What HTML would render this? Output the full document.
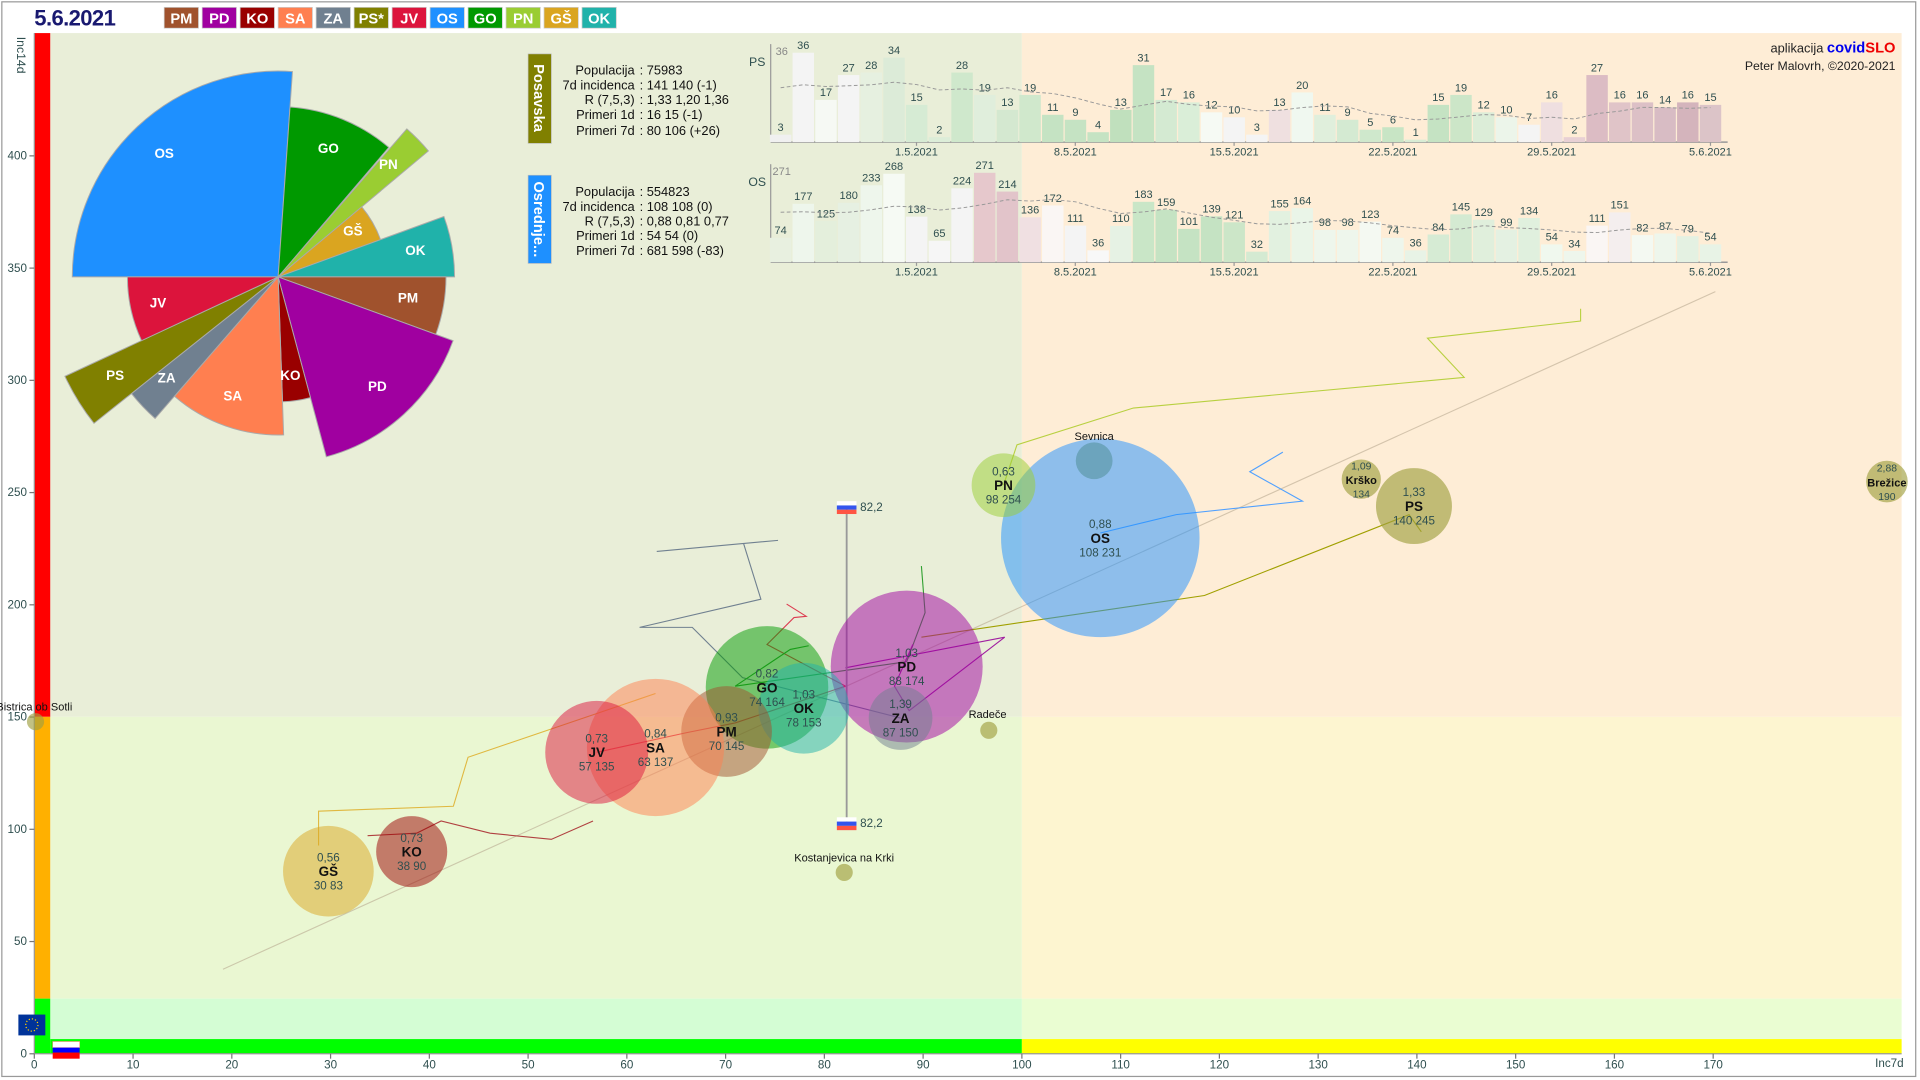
<!DOCTYPE html>
<html><head><meta charset="utf-8"><style>
html,body{margin:0;padding:0;background:#fff;overflow:hidden}
svg{display:block;font-family:"Liberation Sans",sans-serif}
</style></head><body>
<svg id="s" width="1920" height="1080" viewBox="0 0 1567 881.4" preserveAspectRatio="none" xmlns="http://www.w3.org/2000/svg">
<rect x="0" y="0" width="1567" height="881.4" fill="#fff"/>
<rect x="1.5" y="1.5" width="1562" height="877" fill="none" stroke="#999" stroke-width="1"/>
<rect x="41" y="27" width="793" height="558" fill="#e9eed8"/>
<rect x="834" y="27" width="718" height="558" fill="#feedd6"/>
<rect x="41" y="585" width="793" height="230" fill="#eaf7d2"/>
<rect x="834" y="585" width="718" height="230" fill="#fdf5d0"/>
<rect x="41" y="815" width="793" height="33" fill="#d4fdd4"/>
<rect x="834" y="815" width="718" height="33" fill="#eafdd2"/>
<rect x="41" y="848" width="793" height="12" fill="#00ff00"/>
<rect x="834" y="848" width="718" height="12" fill="#ffff00"/>
<rect x="28" y="27" width="13" height="558" fill="#ff0000"/>
<rect x="28" y="585" width="13" height="230" fill="#ffb000"/>
<rect x="28" y="815" width="13" height="45" fill="#00ff00"/>
<line x1="28" y1="27" x2="28" y2="860" stroke="#999"/>
<line x1="28" y1="860" x2="1552" y2="860" stroke="#999"/>
<g id="axes" font-size="9.5" fill="#2f4f4f"></g>
<text x="0" y="0" font-size="10" fill="#2f4f4f" transform="translate(14,30) rotate(90)">Inc14d</text>
<text x="1542" y="871" font-size="9.5" fill="#2f4f4f" text-anchor="middle">Inc7d</text>
<rect x="15" y="828" width="22" height="17" fill="#003399"/>
<circle cx="26" cy="836.5" r="5" fill="none" stroke="#ffcc00" stroke-width="1" stroke-dasharray="1 1.6"/>
<rect x="43" y="850" width="22" height="5" fill="#fff" stroke="#f88" stroke-width="0.5"/>
<rect x="43" y="855" width="22" height="4" fill="#0000ff"/>
<rect x="43" y="859" width="22" height="5" fill="#ff0000"/>
<text x="28" y="21" font-size="18" font-weight="bold" fill="#191970" style="letter-spacing:-0.5px">5.6.2021</text>
<g id="legend" font-size="12" font-weight="bold" fill="#fff" text-anchor="middle"></g>
<g id="pie"></g>
<rect x="431" y="44" width="19" height="73" fill="#808000" stroke="#bbb" stroke-width="0.5"/>
<text transform="translate(436,80) rotate(90)" font-size="12" font-weight="bold" fill="#fff" text-anchor="middle">Posavska</text>
<rect x="431" y="143" width="19" height="72" fill="#1e90ff" stroke="#bbb" stroke-width="0.5"/>
<text transform="translate(436,179) rotate(90)" font-size="12" font-weight="bold" fill="#fff" text-anchor="middle">Osrednje...</text>
<g font-size="10.5" fill="#111">
<g text-anchor="end">
<text x="518" y="61">Populacija</text><text x="518" y="73">7d incidenca</text><text x="518" y="85">R (7,5,3)</text><text x="518" y="97">Primeri 1d</text><text x="518" y="110">Primeri 7d</text>
<text x="518" y="160">Populacija</text><text x="518" y="172">7d incidenca</text><text x="518" y="184">R (7,5,3)</text><text x="518" y="196">Primeri 1d</text><text x="518" y="208">Primeri 7d</text>
</g>
<text x="522" y="61">:  75983</text><text x="522" y="73">:  141 140 (-1)</text><text x="522" y="85">:  1,33 1,20 1,36</text><text x="522" y="97">:  16 15 (-1)</text><text x="522" y="110">:  80 106 (+26)</text>
<text x="522" y="160">:  554823</text><text x="522" y="172">:  108 108 (0)</text><text x="522" y="184">:  0,88 0,81 0,77</text><text x="522" y="196">:  54 54 (0)</text><text x="522" y="208">:  681 598 (-83)</text>
</g>
<g id="bars" font-size="9" fill="#2f4f4f" text-anchor="middle"></g>
<text x="1547" y="43" font-size="10.5" fill="#222" text-anchor="end">aplikacija <tspan fill="#0000ee" font-weight="bold" font-size="12">covid</tspan><tspan fill="#ee0000" font-weight="bold" font-size="12">SLO</tspan></text>
<text x="1547" y="57" font-size="10" fill="#222" text-anchor="end">Peter Malovrh, ©2020-2021</text>
<g fill="none" stroke-width="0.9">
<line x1="182" y1="791" x2="1400" y2="238" stroke="#b8a890" stroke-opacity="0.6"/>
<polyline points="819,396 830,363 925,333 1195,308 1165,276 1290,262 1290,252" stroke="#b8d040"/>
<polyline points="898,435 960,420 1063,409 1020,385 1047,369" stroke="#4fa0ff"/>
<polyline points="1160,434 1150,420 983,486 752,520" stroke="#a0a000"/>
<polyline points="260,690 260,662 370,658 382,618 535,566" stroke="#e0b840"/>
<polyline points="300,682 340,680 360,670 400,680 450,685 484,670" stroke="#b04040"/>
<path d="M536,450 L635,441 M607,444 L621,489 L522,512 L565,512 L606,553 L735,586" stroke="#708090"/>
<polyline points="642,493 658,503 648,504 626,526 690,560 600,590 560,598 487,614" stroke="#dc3c50"/>
<polyline points="752,462 755,500 740,540 600,560 645,530 660,527" stroke="#30a030"/>
<polyline points="745,526 730,560 742,580 820,520 690,545" stroke="#a020a0"/>
</g>
<line x1="691" y1="414" x2="691" y2="672" stroke="#999" stroke-width="1.5"/>
<g id="flags"></g>
<g id="bubbles" text-anchor="middle"></g>
</svg>
<script>
var NS="http://www.w3.org/2000/svg";
function el(p,t,a,txt){var e=document.createElementNS(NS,t);for(var k in a)e.setAttribute(k,a[k]);if(txt!=null)e.textContent=txt;p.appendChild(e);return e;}
var ax=document.getElementById('axes');
for(var v=0;v<=170;v+=10){var x=28+8.06*v;el(ax,'line',{x1:x,y1:860,x2:x,y2:864,stroke:'#777'});el(ax,'text',{x:x,y:872,'text-anchor':'middle'},String(v));}
for(var v=0;v<=400;v+=50){var y=860-1.832*v;el(ax,'line',{x1:24,y1:y,x2:28,y2:y,stroke:'#777'});el(ax,'text',{x:22,y:y+3,'text-anchor':'end'},String(v));}
var lg=[['PM','#a0522d'],['PD','#a000a0'],['KO','#990000'],['SA','#ff7f50'],['ZA','#708090'],['PS*','#808000'],['JV','#dc143c'],['OS','#1e90ff'],['GO','#009900'],['PN','#9acd32'],['GŠ','#daa520'],['OK','#20b2aa']];
var L=document.getElementById('legend');
lg.forEach(function(d,i){var x=134+i*31;el(L,'rect',{x:x,y:6,width:28,height:17,fill:d[1],stroke:'#ccc','stroke-width':0.6});el(L,'text',{x:x+14,y:19},d[0]);});
var P=document.getElementById('pie'),cx=227,cy=226;
var pie=[['OS',270,364,168,'#1e90ff',134,125],['GO',4,40.5,139,'#009900',268,121],['PN',41,50,160,'#9acd32',317,134],['GŠ',50,70,89,'#daa520',288,188],['OK',70,90,144,'#20b2aa',339,204],['PM',90,110,137,'#a0522d',333,243],['PD',110,165,152,'#a000a0',308,315],['KO',165,178,102,'#990000',237,306],['SA',178,221,129,'#ff7f50',190,323],['ZA',221,231.5,153,'#708090',136,308],['PS',231.5,245,192,'#808000',94,306],['JV',245,270,123,'#dc143c',129,247]];
function pt(a,r){a=a*Math.PI/180;return (cx+r*Math.sin(a)).toFixed(1)+','+(cy-r*Math.cos(a)).toFixed(1);}
pie.forEach(function(d){var la=(d[2]-d[1])>180?1:0;el(P,'path',{d:'M'+cx+','+cy+' L'+pt(d[1],d[3])+' A'+d[3]+','+d[3]+' 0 '+la+' 1 '+pt(d[2],d[3])+' Z',fill:d[4],stroke:'#aaa','stroke-width':0.8});});
pie.forEach(function(d){el(P,'text',{x:d[5],y:d[6]+4,'font-size':11,'font-weight':'bold',fill:'#fff','text-anchor':'middle'},d[0]);});
var B=document.getElementById('bars');
var ps=[3,36,17,27,28,34,15,2,28,19,13,19,11,9,4,13,31,17,16,12,10,3,13,20,11,9,5,6,1,15,19,12,10,7,16,2,27,16,16,14,16,15];
var psc=['#f0f0f0','#f4f4f4','#f6f9f4','#f4f4f4','#e6f0e0','#dcebd8','#d6ebd4','#dcedd8','#cfe8cc','#e0eedc','#d4e8d0','#d0e8cc','#c5e3c3','#c5e3c3','#c5e3c3','#c0e0bd','#c5e3c3','#d4ead2','#daeed8','#f6faf4','#f4f4f4','#f4f4f4','#efe0e0','#f0f8f0','#e0efdc','#d4ead2','#cfe8cc','#c8e5c5','#d8ecd4','#c5e3c3','#cce6c8','#dcedd8','#ecf5ea','#f4f4f4','#efdfe0','#e8d0d4','#dcbcc4','#e0c4c8','#dcc0c6','#d8bcc4','#d4b4bc','#dcc4c8'];
var os=[74,177,125,180,233,268,138,65,224,271,214,136,172,111,36,110,183,159,101,139,121,32,155,164,98,98,123,74,36,84,145,129,99,134,54,34,111,151,82,87,79,54];
var osc=['#e8f0e0','#eef6ec','#e4efdc','#e6f0e2','#eef6ec','#f6faf4','#f4f4f4','#f6f6f6','#f4f4f4','#e6c8cc','#e2c4ca','#f0e0e2','#faf6f4','#f4f4f4','#f8f8f8','#e6f2e4','#c9e6c7','#c5e3c3','#c5e3c3','#c5e3c3','#cce6c8','#d4ead2','#e2f1e0','#eaf5e8','#eef6ec','#eef6ec','#f4f9f2','#eef6ec','#e8f3e6','#d6ebd4','#d4ead2','#e0efdc','#e4f1e2','#e0f0de','#f0f8ee','#eef6ec','#faf6f4','#f4eeee','#f4f9f2','#eef6ec','#e4f1e2','#e8f3e6'];
function chart(vals,cols,base,name,top,pad){
 var mx=Math.max.apply(null,vals),sc=73/mx,bw=18.51;
 el(B,'line',{x1:629,y1:base-80,x2:629,y2:base,stroke:'#999'});
 el(B,'line',{x1:629,y1:base,x2:1410,y2:base,stroke:'#999','stroke-width':1.2});
 el(B,'text',{x:618,y:base-62,'font-size':10},name);
 el(B,'text',{x:638,y:base-71,fill:'#888'},String(top));
 var pts=[],all=[];for(var k=0;k<10;k++)all.push(pad);all=all.concat(vals);
 vals.forEach(function(v,i){var cxx=1396-(41-i)*bw,h=v*sc;
  el(B,'rect',{x:cxx-bw/2+0.5,y:base-h,width:bw-1,height:h,fill:cols[i]});
  el(B,'text',{x:cxx,y:base-h-3},String(v));
  var s=0,n=0;for(var j=i+10-9;j<=i+10;j++){s+=all[j];n++;}pts.push(cxx.toFixed(1)+','+(base-s/n*sc).toFixed(1));});
 el(B,'polyline',{points:pts.join(' '),fill:'none',stroke:'#999','stroke-width':0.8,'stroke-dasharray':'3 2'});
 ['1.5.2021','8.5.2021','15.5.2021','22.5.2021','29.5.2021','5.6.2021'].forEach(function(t,k){var x=748+k*129.6;el(B,'line',{x1:x,y1:base,x2:x,y2:base+3,stroke:'#999'});el(B,'text',{x:x,y:base+11},t);});
}
chart(ps,psc,116,'PS',36,24);
chart(os,osc,214,'OS',271,160);
var F=document.getElementById('flags');
[414,672].forEach(function(y){el(F,'rect',{x:683,y:y-5,width:16,height:3.5,fill:'#fff'});el(F,'rect',{x:683,y:y-1.5,width:16,height:3.5,fill:'#3355ee'});el(F,'rect',{x:683,y:y+2,width:16,height:3.5,fill:'#ff5544'});el(F,'text',{x:702,y:y+3,'font-size':9.5,fill:'#2f4f4f'},'82,2');});
var G=document.getElementById('bubbles');
var bub=[
['#1e90ff',898,439,81,'0,88','OS','108 231'],
['#4a8a90',893,376,15,null,null,null],
['#9acd32',819,396,26,'0,63','PN','98 254'],
['#a0a040',1111,391,16,'1,09','Krško','134'],
['#a0a040',1154,413,31,'1,33','PS','140 245'],
['#a0a040',1540,393,17,'2,88','Brežice','190'],
['#a000a0',740,544,62,'1,03','PD','88 174'],
['#708090',735,586,26,'1,39','ZA','87 150'],
['#009900',626,561,50,'0,82','GO','74 164'],
['#20b2aa',656,578,37,'1,03','OK','78 153'],
['#a0522d',593,597,37,'0,93','PM','70 145'],
['#ff7f50',535,610,56,'0,84','SA','63 137'],
['#dc143c',487,614,42,'0,73','JV','57 135'],
['#990000',336,695,29,'0,73','KO','38 90'],
['#daa520',268,711,37,'0,56','GŠ','30 83'],
['#a0a040',807,596,7,null,null,null],
['#a0a040',689,712,7,null,null,null],
['#a0a040',29,589,7,null,null,null]];
bub.forEach(function(b){el(G,'circle',{cx:b[1],cy:b[2],r:b[3],fill:b[0],'fill-opacity':(b[0]=='#a0a040'?0.65:0.5)});});
bub.forEach(function(b){if(!b[4])return;var small=b[3]<20;
 el(G,'text',{x:b[1],y:b[2]-8,'font-size':small?8.5:9.5,fill:'#2f4f4f'},b[4]);
 el(G,'text',{x:b[1],y:b[2]+4,'font-size':small?9:11,'font-weight':'bold',fill:'#111'},b[5]);
 el(G,'text',{x:b[1],y:b[2]+15,'font-size':small?8.5:9.5,fill:'#2f4f4f'},b[6]);});
[['Sevnica',893,359],['Radeče',806,586],['Kostanjevica na Krki',689,703],['Bistrica ob Sotli',28,580]].forEach(function(t){el(G,'text',{x:t[1],y:t[2],'font-size':9,fill:'#111'},t[0]);});
</script>
</body></html>
